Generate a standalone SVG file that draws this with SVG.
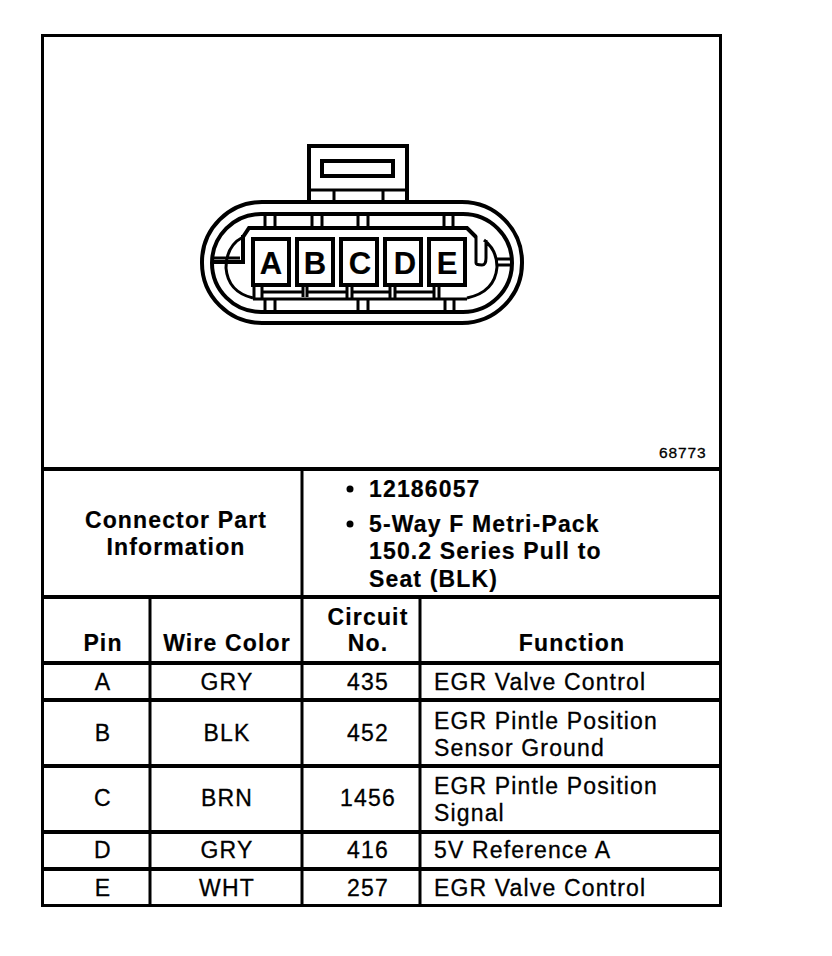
<svg xmlns="http://www.w3.org/2000/svg" width="832" height="956" viewBox="0 0 832 956">
<style>
.l{fill:none;stroke:#000;stroke-width:3}
.m{fill:none;stroke:#000;stroke-width:4}
text{font-family:"Liberation Sans",Arial,sans-serif;fill:#000;font-size:23px;letter-spacing:1.150px;stroke:#000;stroke-width:.3}
.b{font-weight:bold;stroke-width:.2}
.c{text-anchor:middle}
.p{font-size:31px;font-weight:bold;letter-spacing:0;text-anchor:middle;stroke-width:.2}
</style>
<rect width="832" height="956" fill="#fff"/>
<g id="frame">
<rect class="l" x="42.500" y="35.500" width="678" height="870"/>
<path class="m" d="M42 469H721M42 597H721M42 663H721M42 700H721M42 766H721M42 832H721M42 869H721"/>
<path class="l" d="M302 469V906M150 597V906M420 597V906"/>
</g>
<g id="connector">
<path class="m" d="M309 201V146H407V201"/>
<rect class="m" x="322" y="161" width="71" height="15"/>
<path class="l" d="M310 190H406M334 190V201M383 190V201"/>
<rect class="m" x="202" y="202" width="320" height="121" rx="60" ry="60" fill="none"/>
<rect class="m" x="212" y="214" width="300" height="98" rx="49" ry="49" fill="none"/>
<path class="m" d="M243 237L249 228H467L476 237"/>
<path class="m" d="M243 235V262H214"/>
<path class="l" d="M243 237Q226 246 226 268Q228 292 253 298M476 236V263Q476 265 482 265Q486 265 486 258V240M484 240Q497 250 497 267Q495 292 467 298M253 299H467M214 258H240M497 259H511M497 265H511"/>
<path class="l" d="M265 214V228M275 214V228M312 214V228M322 214V228M358 214V228M368 214V228M444 214V228M453 214V228M265 299V312M275 299V312M358 299V312M368 299V312M445 299V312M454 299V312"/>
<path class="l" d="M254 286V299M262 286V299M303 286V297M307 286V297M347 286V299M352 286V299M390 286V299M395 286V299M434 286V299M439 286V299M262 292H303M307 292H347M352 292H390M395 292H434"/>
</g>
<g id="pin-A"><rect class="m" x="253" y="239" width="36" height="46" fill="#fff"/><text class="p" x="271" y="274">A</text></g>
<g id="pin-B"><rect class="m" x="297" y="239" width="36" height="46" fill="#fff"/><text class="p" x="315" y="274">B</text></g>
<g id="pin-C"><rect class="m" x="341" y="239" width="36" height="46" fill="#fff"/><text class="p" x="360" y="274">C</text></g>
<g id="pin-D"><rect class="m" x="385" y="239" width="36" height="46" fill="#fff"/><text class="p" x="405" y="274">D</text></g>
<g id="pin-E"><rect class="m" x="429" y="239" width="36" height="46" fill="#fff"/><text class="p" x="447" y="274">E</text></g>
<g id="texts">
<text x="659" y="458" style="font-size:15.500px;letter-spacing:.9px">68773</text>
<text class="b c" x="176" y="528">Connector Part</text>
<text class="b c" x="176" y="555">Information</text>
<circle cx="350" cy="489" r="3.500"/><circle cx="350" cy="524" r="3.500"/>
<text class="b" x="369" y="497">12186057</text>
<text class="b" x="369" y="532">5-Way F Metri-Pack</text>
<text class="b" x="369" y="559">150.2 Series Pull to</text>
<text class="b" x="369" y="587">Seat (BLK)</text>
<text class="b c" x="103" y="651">Pin</text>
<text class="b c" x="227" y="651">Wire Color</text>
<text class="b c" x="368" y="625">Circuit</text>
<text class="b c" x="368" y="651">No.</text>
<text class="b c" x="572" y="651">Function</text>
<text class="c" x="103" y="690">A</text><text class="c" x="227" y="690">GRY</text><text class="c" x="368" y="690">435</text><text x="434" y="690">EGR Valve Control</text>
<text class="c" x="103" y="741">B</text><text class="c" x="227" y="741">BLK</text><text class="c" x="368" y="741">452</text><text x="434" y="729">EGR Pintle Position</text><text x="434" y="756">Sensor Ground</text>
<text class="c" x="103" y="806">C</text><text class="c" x="227" y="806">BRN</text><text class="c" x="368" y="806">1456</text><text x="434" y="794">EGR Pintle Position</text><text x="434" y="821">Signal</text>
<text class="c" x="103" y="858">D</text><text class="c" x="227" y="858">GRY</text><text class="c" x="368" y="858">416</text><text x="434" y="858">5V Reference A</text>
<text class="c" x="103" y="896">E</text><text class="c" x="227" y="896">WHT</text><text class="c" x="368" y="896">257</text><text x="434" y="896">EGR Valve Control</text>
</g>
</svg>
